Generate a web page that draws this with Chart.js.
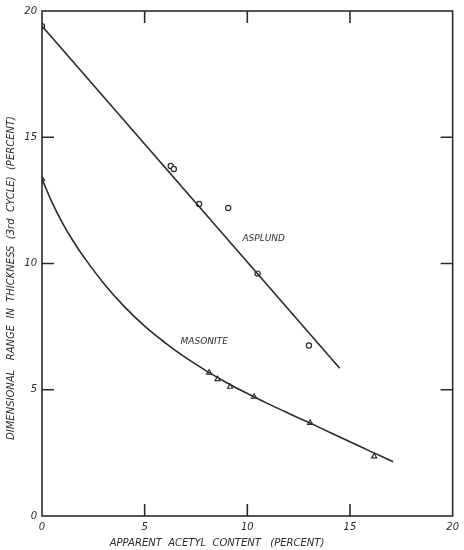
<!DOCTYPE html>
<html>
<head>
<meta charset="utf-8">
<script src="https://cdn.jsdelivr.net/npm/chart.js@4"></script>
<style>
  html, body { margin: 0; padding: 0; background: #fff; }
  #wrap { width: 464px; height: 550px; }
</style>
</head>
<body>
<div id="wrap"><canvas id="myChart" width="464" height="550"></canvas></div>
<script>
// measured points
var asplund_x = [0, 6.27, 6.42, 7.65, 9.07, 10.5, 13.0];
var asplund_y = [19.4, 13.86, 13.74, 12.36, 12.2, 9.6, 6.75];
var masonite_x = [0, 8.14, 8.55, 9.16, 10.33, 13.06, 16.18];
var masonite_y = [13.35, 5.68, 5.42, 5.12, 4.72, 3.69, 2.36];

// hand drawn fit lines
var asplund_fit_x = [0, 14.5];
var asplund_fit_y = [19.4, 5.85];
var masonite_fit_x = [0, 0.5, 1, 1.5, 2, 3, 4, 5, 6, 7, 8, 9, 10, 11, 12, 13, 14, 15, 16, 17.1];
var masonite_fit_y = [13.35, 12.4, 11.6, 10.91, 10.3, 9.22, 8.3, 7.52, 6.86, 6.27, 5.75, 5.28, 4.85, 4.45, 4.07, 3.7, 3.32, 2.94, 2.56, 2.15];

var tick_labels = [0, 5, 10, 15, 20];
var inner_ticks = [5, 10, 15];

var ink = "#2b2b2b";
var letterFont = "italic 9px 'DejaVu Sans'";
var titleFont = "italic 10px 'DejaVu Sans'";

function pts(xs, ys) {
  return xs.map(function (x, i) { return { x: x, y: ys[i] }; });
}

var paperPlugin = {
  id: "paper",
  beforeDraw: function (chart) {
    var ctx = chart.ctx;
    ctx.save();
    ctx.fillStyle = "#fff";
    ctx.fillRect(0, 0, chart.width, chart.height);
    ctx.restore();
  },
  afterDraw: function (chart) {
    var ctx = chart.ctx;
    var a = chart.chartArea;
    var xs = chart.scales.x, ys = chart.scales.y;
    ctx.save();
    ctx.strokeStyle = ink;
    ctx.lineWidth = 1.6;
    ctx.strokeRect(a.left, a.top, a.right - a.left, a.bottom - a.top);

    // inner tick marks on all four sides
    inner_ticks.forEach(function (v) {
      var px = xs.getPixelForValue(v);
      var py = ys.getPixelForValue(v);
      ctx.beginPath();
      ctx.moveTo(px, a.bottom); ctx.lineTo(px, a.bottom - 12);
      ctx.moveTo(px, a.top); ctx.lineTo(px, a.top + 12);
      ctx.moveTo(a.left, py); ctx.lineTo(a.left + 12, py);
      ctx.moveTo(a.right, py); ctx.lineTo(a.right - 12, py);
      ctx.stroke();
    });

    // axis titles and curve labels
    ctx.fillStyle = ink;
    ctx.font = titleFont;
    ctx.textAlign = "center";
    ctx.textBaseline = "middle";
    ctx.fillText("APPARENT  ACETYL  CONTENT   (PERCENT)", 217, 543);

    ctx.save();
    ctx.translate(11, 278);
    ctx.rotate(-Math.PI / 2);
    ctx.fillText("DIMENSIONAL   RANGE  IN  THICKNESS  (3rd  CYCLE)  (PERCENT)", 0, 0);
    ctx.restore();

    ctx.font = letterFont;
    ctx.fillText("ASPLUND", xs.getPixelForValue(10.8), ys.getPixelForValue(11.0));
    ctx.fillText("MASONITE", xs.getPixelForValue(7.9), ys.getPixelForValue(6.9));
    ctx.restore();
  },
};

new Chart("myChart", {
  type: "scatter",
  data: {
    datasets: [
      {
        label: "Asplund fit",
        data: pts(asplund_fit_x, asplund_fit_y),
        showLine: true,
        borderColor: ink,
        borderWidth: 1.6,
        pointRadius: 0,
      },
      {
        label: "Masonite fit",
        data: pts(masonite_fit_x, masonite_fit_y),
        showLine: true,
        tension: 0.4,
        borderColor: ink,
        borderWidth: 1.6,
        pointRadius: 0,
      },
      {
        label: "Asplund",
        data: pts(asplund_x, asplund_y),
        pointStyle: "circle",
        pointRadius: 2.6,
        borderWidth: 1.2,
        borderColor: ink,
        backgroundColor: "#fff",
      },
      {
        label: "Masonite",
        data: pts(masonite_x, masonite_y),
        pointStyle: "triangle",
        pointRadius: 3,
        borderWidth: 1.1,
        borderColor: ink,
        backgroundColor: "#fff",
      },
    ],
  },
  options: {
    responsive: false,
    animation: false,
    layout: { padding: { top: 8, right: 9, left: 0, bottom: 0 } },
    plugins: {
      legend: { display: false },
      tooltip: { enabled: false },
    },
    scales: {
      x: {
        min: 0,
        max: 20,
        afterFit: function (s) { s.height = 34; },
        afterBuildTicks: function (s) { s.ticks = tick_labels.map(function (v) { return { value: v }; }); },
        grid: { display: false, drawTicks: false },
        border: { display: false },
        ticks: {
          color: ink,
          font: { family: "DejaVu Sans", style: "italic", size: 10 },
          padding: 5,
          maxRotation: 0,
        },
      },
      y: {
        min: 0,
        max: 20,
        afterFit: function (s) { s.width = 42; },
        afterBuildTicks: function (s) { s.ticks = tick_labels.map(function (v) { return { value: v }; }); },
        grid: { display: false, drawTicks: false },
        border: { display: false },
        ticks: {
          color: ink,
          font: { family: "DejaVu Sans", style: "italic", size: 10 },
          padding: 5,
        },
      },
    },
  },
  plugins: [paperPlugin],
});
</script>
</body>
</html>
